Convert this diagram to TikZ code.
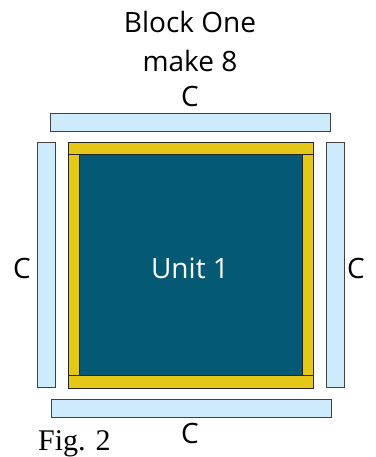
\documentclass[tikz,border=0pt]{standalone}
\usepackage{fontspec}
\setmainfont{Open Sans}
\newfontfamily\figfont{Liberation Serif}
\definecolor{stripblue}{HTML}{CDEBFA}
\definecolor{frameyellow}{HTML}{E5C817}
\definecolor{unitteal}{HTML}{045A74}
\tikzset{
  strip/.style={fill=stripblue, draw=black!75, line width=0.9pt},
  frame/.style={fill=frameyellow, draw=black!85, line width=0.9pt},
  label/.style={font=\fontsize{28}{37}\selectfont, inner sep=0pt, align=center}
}
\begin{document}
\begin{tikzpicture}[x=1pt,y=-1pt]
      \useasboundingbox (0,0) rectangle (375,457);
      % cut strips
      \draw[strip] (50,113) rectangle (330,131);
      \draw[strip] (51,399) rectangle (331,417);
      \draw[strip] (37,142) rectangle (55,387);
      \draw[strip] (326,142) rectangle (344,387);
      % yellow frame
      \draw[frame] (68,142) rectangle (313,154);
      \draw[frame] (68,375) rectangle (313,388);
      \draw[frame] (68,154) rectangle (79,375);
      \draw[frame] (302,154) rectangle (313,375);
      \draw[fill=unitteal, draw=black!85, line width=0.9pt] (79,154) rectangle (302,375);
      % texts
      \node[label, anchor=base] (title) at (190,33) {Block One};
      \node[label, anchor=base] (count) at (190,72) {make 8};
      \node[label, anchor=base] (ctop) at (190,107) {C};
      \node[label] (cleft) at (22,268) {C};
      \node[label] (cright) at (356,268) {C};
      \node[label] (cbottom) at (190,433) {C};
      \node[label, text=white] (unit) at (190,268) {Unit 1};
      \node[font=\figfont\fontsize{30}{36}\selectfont, inner sep=0pt, anchor=base west] (fig) at (38,450) {Fig. 2};
\end{tikzpicture}
\end{document}
